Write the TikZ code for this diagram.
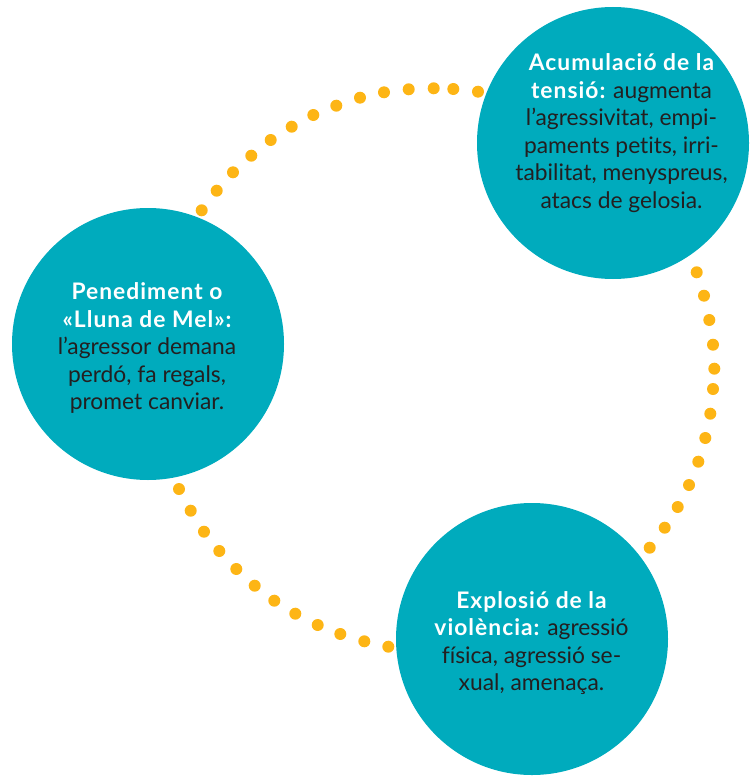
\documentclass[tikz,border=0pt]{standalone}
\usepackage{fontspec}
\setmainfont{Lato}[Ligatures=NoCommon]
\definecolor{tealc}{HTML}{00ABBD}
\definecolor{dotc}{HTML}{FDB515}
\definecolor{inkc}{HTML}{231F20}
\newcommand{\hd}[1]{{\bfseries\addfontfeatures{LetterSpace=4.5}\color{white}#1}}
\begin{document}
\begin{tikzpicture}[x=1pt,y=-1pt,
  phase/.style={circle,fill=tealc,minimum size=272pt,inner sep=0pt},
  txt/.style={align=center,text=inkc,inner sep=0pt,font=\fontsize{22.8}{27.5}\selectfont},
  dotmark/.style={fill=dotc}]
\useasboundingbox (0,0) rectangle (750,776);
% dotted arcs
\foreach \x/\y in {201.7/210.3,216.7/190.7,233/172.3,251.3/155.7,270.7/140,291.7/126.7,313.3/115,336.3/105.7,360/97.7,384/92.3,408.7/89.3,433.7/88.3,453.3/89,478/91.7,
 696.7/272.3,704/295.7,709.3/320,713/344.7,714.3/368.7,713/389,710.3/413.7,705.3/438,698.3/461.7,689/485,677.7/507,664.7/527.7,649.7/547.7,
 179/489,190.7/510.7,204/531.7,219.3/551,236.3/569,254.7/585.7,274.3/600.7,295.3/613.7,317.7/625,340.3/634,364.3/641.3,388.3/646.7}
  \fill[dotmark] (\x,\y) circle (6);
% circles
\node[phase] (acum) at (613,143) {};
\node[phase] (pene) at (148,344) {};
\node[phase] (expl) at (532,639) {};
% texts
\node[txt] (acumt) at (621.5,133) {\hd{Acumulació de la}\\\hd{tensió:} augmenta\\l’agressivitat, empi-\\paments petits, irri-\\tabilitat, menyspreus,\\atacs de gelosia.};
\node[txt] (penet) at (147,348) {\hd{Penediment o}\\\hd{«Lluna de Mel»:}\\l’agressor demana\\perdó, fa regals,\\promet canviar.};
\node[txt] (explt) at (531.5,643) {\hd{Explosió de la}\\\hd{violència:} agressió\\física, agressió se-\\xual, amenaça.};
\end{tikzpicture}
\end{document}
